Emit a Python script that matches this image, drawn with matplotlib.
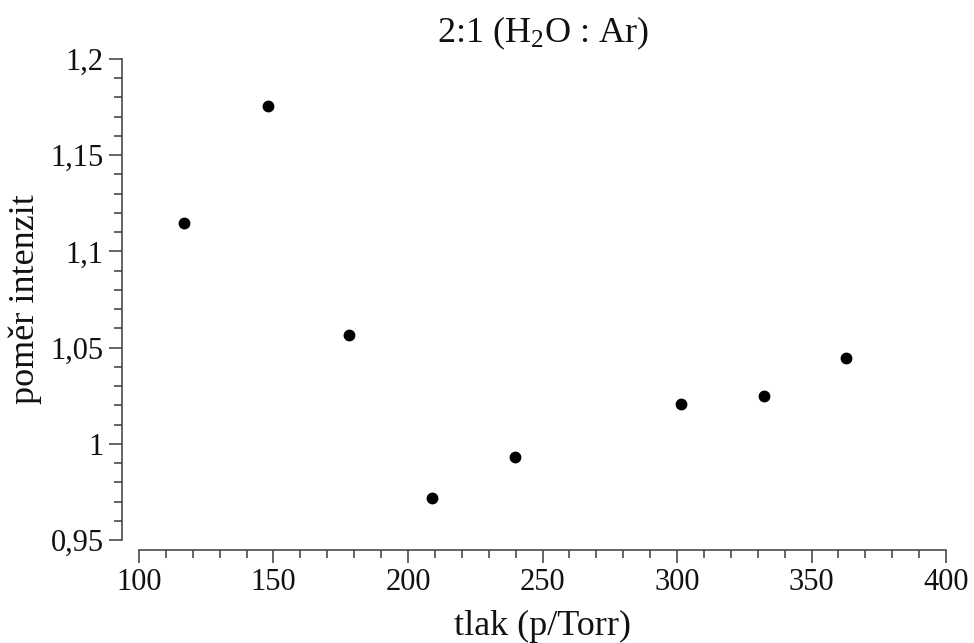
import matplotlib
matplotlib.use("Agg")
import matplotlib.pyplot as plt
from matplotlib.ticker import MultipleLocator, FuncFormatter

# pressure (Torr) and intensity ratio
tlak = [116.7, 148.0, 178.1, 208.9, 239.8, 301.5, 332.3, 362.8]
pomer = [1.1148, 1.1756, 1.0565, 0.9718, 0.9931, 1.0207, 1.0248, 1.0446]

plt.rcParams['font.family'] = ['Liberation Serif', 'DejaVu Serif']
plt.rcParams['mathtext.fontset'] = 'custom'
plt.rcParams['mathtext.rm'] = 'Liberation Serif'
plt.rcParams['mathtext.it'] = 'Liberation Serif:italic'

fig = plt.figure(figsize=(9.74, 6.43), dpi=100)
ax = fig.add_axes([0.1427, 0.1602, 0.8286, 0.7481])

ax.plot(tlak, pomer, 'o', color='black', markersize=7.5, clip_on=False)

ax.set_xlim(100, 400)
ax.set_ylim(0.95, 1.2)
ax.xaxis.set_major_locator(MultipleLocator(50))
ax.xaxis.set_minor_locator(MultipleLocator(10))
ax.yaxis.set_major_locator(MultipleLocator(0.05))
ax.yaxis.set_minor_locator(MultipleLocator(0.01))
ax.yaxis.set_major_formatter(FuncFormatter(lambda v, p: ('%g' % round(v, 3)).replace('.', ',')))

for s in ['top', 'right']:
    ax.spines[s].set_visible(False)
ax.spines['left'].set_position(('outward', 12))
ax.spines['bottom'].set_position(('outward', 7))
for s in ['left', 'bottom']:
    ax.spines[s].set_color('#3a3a3a')
    ax.spines[s].set_linewidth(1.1)

ax.tick_params(which='major', length=9.5, width=1.1, color='#3a3a3a',
               labelsize=22, pad=4, labelcolor='#111111')
ax.tick_params(which='minor', length=5.5, width=1.1, color='#3a3a3a')

ax.set_xlabel('tlak (p/Torr)', fontsize=26, color='#111111', labelpad=9)
ax.set_ylabel('poměr intenzit', fontsize=26, color='#111111', labelpad=6)
ax.set_title('2:1 (H$_2$O : Ar)', fontsize=26, color='#111111', pad=12)

fig.savefig('out.png', dpi=100)
